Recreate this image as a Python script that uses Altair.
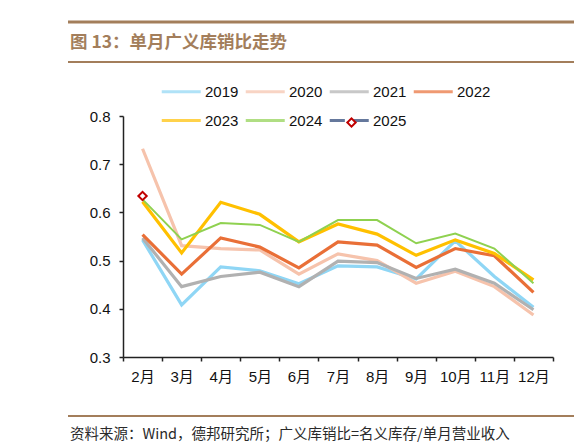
import altair as alt
import pandas as pd

# -----------------------------
# DATA
# -----------------------------
months = ["2月", "3月", "4月", "5月", "6月", "7月", "8月", "9月", "10月", "11月", "12月"]
years = ["2019", "2020", "2021", "2022", "2023", "2024", "2025"]

v2019 = [0.543, 0.408, 0.487, 0.479, 0.452, 0.489, 0.487, 0.462, 0.541, 0.467, 0.403]
v2020 = [0.732, 0.531, 0.525, 0.522, 0.472, 0.514, 0.500, 0.453, 0.478, 0.446, 0.387]
v2021 = [0.547, 0.446, 0.467, 0.476, 0.446, 0.499, 0.496, 0.463, 0.482, 0.453, 0.398]
v2022 = [0.554, 0.472, 0.547, 0.528, 0.485, 0.539, 0.532, 0.486, 0.525, 0.510, 0.434]
v2023 = [0.622, 0.516, 0.621, 0.596, 0.539, 0.576, 0.555, 0.511, 0.543, 0.515, 0.460]
v2024 = [0.627, 0.544, 0.578, 0.574, 0.539, 0.584, 0.584, 0.536, 0.556, 0.525, 0.453]
v2025 = [0.634]

colors = ["#8fd6f5", "#f6c3ac", "#b1b1b1", "#e96f37", "#ffc000", "#8fd150", "#243f73"]

title_text = "图 13：单月广义库销比走势"
source_text = "资料来源：Wind，德邦研究所；广义库销比=名义库存/单月营业收入"

BROWN = "#a37e5b"
RED = "#c00000"
FONT = "Liberation Sans, Noto Sans CJK SC"

series = {"2019": v2019, "2020": v2020, "2021": v2021, "2022": v2022,
          "2023": v2023, "2024": v2024}
rows = []
for yr, vals in series.items():
    for m, v in zip(months, vals):
        rows.append({"month": m, "year": yr, "value": v})
lines_df = pd.DataFrame(rows)
pt_df = pd.DataFrame({"month": months[:len(v2025)], "year": "2025", "value": v2025,
                      "marker": "2025"})
legend_df = pd.DataFrame({"month": months[0], "year": years, "value": 0.1})

# legend symbols: a line, and for 2025 a line with a gap for the diamond
line_path = "M-1,0L3,0"
gap_path = "M-1,0L0.55,0M1.45,0L3,0"
shapes = [line_path] * 6 + [gap_path]

x_enc = alt.X("month:N", sort=months, title=None,
              scale=alt.Scale(type="band", paddingInner=0, paddingOuter=0),
              axis=alt.Axis(labelAngle=0, tickBand="extent", labelPadding=8))
y_enc = alt.Y("value:Q", title=None,
              scale=alt.Scale(domain=[0.3, 0.8], nice=False, zero=False),
              axis=alt.Axis(values=[0.3, 0.4, 0.5, 0.6, 0.7, 0.8], format=".1f",
                            labelPadding=9))
color_scale = alt.Scale(domain=years, range=colors)
leg = alt.Legend(title=None)

thick = (
    alt.Chart(lines_df)
    .transform_filter("datum.year != '2024'")
    .mark_line(strokeWidth=3.2)
    .encode(x=x_enc, y=y_enc, color=alt.Color("year:N", scale=color_scale, legend=leg))
)
thin = (
    alt.Chart(lines_df)
    .transform_filter("datum.year == '2024'")
    .mark_line(strokeWidth=2)
    .encode(x=x_enc, y=y_enc, color=alt.Color("year:N", scale=color_scale, legend=leg))
)

# the 2025 marker; its own one-entry legend puts the red diamond on the 2025 key
point25 = (
    alt.Chart(pt_df)
    .mark_point(shape="diamond", filled=True, stroke=RED, strokeWidth=2, size=70, opacity=1)
    .encode(
        x=x_enc,
        y=y_enc,
        fill=alt.Fill(
            "marker:N",
            scale=alt.Scale(domain=["2025"], range=["white"]),
            legend=alt.Legend(
                title=None, orient="none", legendX=223, legendY=1, columns=1,
                symbolType="diamond", symbolSize=70, symbolStrokeWidth=2,
                symbolStrokeColor=RED, symbolFillColor="white", labelExpr="''",
                labelFontSize=1, labelOffset=0, padding=0,
            ),
        ),
    )
)

# invisible layer (values below the y domain, clipped) that carries the legend shapes
legend_layer = (
    alt.Chart(legend_df)
    .mark_point(filled=False, clip=True)
    .encode(
        x=x_enc,
        y=y_enc,
        color=alt.Color("year:N", scale=color_scale, legend=leg),
        shape=alt.Shape("year:N", scale=alt.Scale(domain=years, range=shapes), legend=leg),
    )
)

one = pd.DataFrame({"k": [0]})
top_rule = alt.Chart(one).mark_rule(color=BROWN, strokeWidth=3).encode(
    x=alt.value(-55), x2=alt.value(451), y=alt.value(-94))
mid_rule = alt.Chart(one).mark_rule(color=BROWN, strokeWidth=2).encode(
    x=alt.value(-55), x2=alt.value(451), y=alt.value(-54))
bot_rule = alt.Chart(one).mark_rule(color=BROWN, strokeWidth=2).encode(
    x=alt.value(-55), x2=alt.value(451), y=alt.value(300))
title = alt.Chart(one).mark_text(
    align="left", baseline="middle", font="Noto Sans CJK SC", fontSize=17.5,
    fontWeight="bold", color=BROWN
).encode(x=alt.value(-53), y=alt.value(-73), text=alt.value(title_text))
source = alt.Chart(one).mark_text(
    align="left", baseline="middle", font="Noto Sans CJK SC", fontSize=14.5,
    color="#2a2a2a"
).encode(x=alt.value(-53), y=alt.value(319), text=alt.value(source_text))

chart = (
    alt.layer(legend_layer, thick, thin, point25, top_rule, mid_rule, bot_rule, title, source)
    .properties(
        width=430, height=241,
        autosize=alt.AutoSizeParams(type="none"),
        padding={"left": 115, "top": 108, "right": 21, "bottom": 85},
    )
    .configure_view(stroke="transparent")
    .configure_axis(
        grid=False, domainColor="#222222", domainWidth=1.5, tickColor="#222222",
        tickWidth=1.5, tickSize=4, labelFont=FONT, labelFontSize=15,
        labelColor="#111111",
    )
    .configure_legend(
        orient="none", legendX=37, legendY=-36, direction="horizontal", columns=4,
        symbolSize=380, symbolStrokeWidth=3, symbolFillColor="white",
        labelFont=FONT, labelFontSize=15, labelColor="#111111", labelOffset=22,
        columnPadding=0, rowPadding=9, padding=0,
    )
)

chart.save("out.html", embed_options={"renderer": "svg", "actions": False})
